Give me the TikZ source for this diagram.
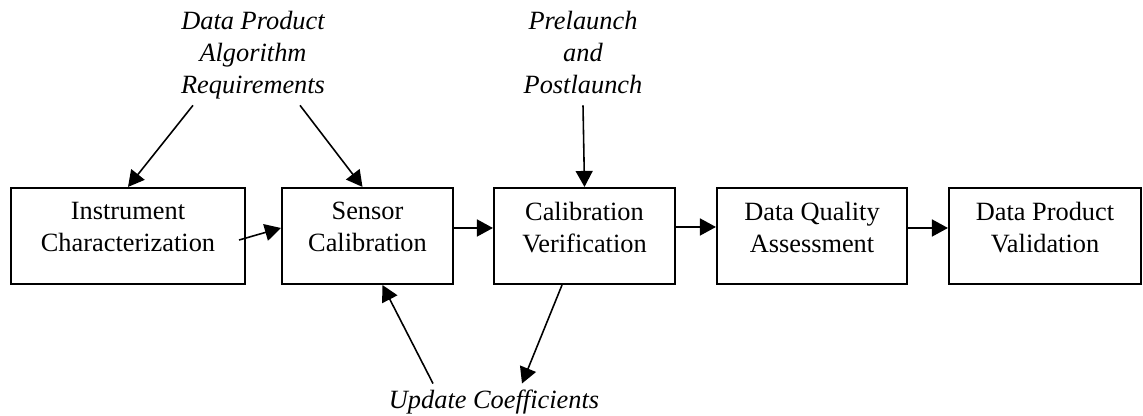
\documentclass[tikz,border=0pt]{standalone}
\usepackage{fontspec}
\setmainfont{Liberation Serif}
\usetikzlibrary{arrows.meta}

\begin{document}
\begin{tikzpicture}[box/.style={draw, line width=1.2pt, minimum height=1.92cm, align=center, text depth=0.36cm, inner sep=0pt, font=\fontsize{15}{18.2}\selectfont},
lbl/.style={align=center, text depth=0.12cm, font=\fontsize{15}{18.2}\selectfont\itshape},
arr/.style={line width=0.9pt, -{Triangle[length=0.32cm, width=0.34cm]}}]
\useasboundingbox (0,0) rectangle (22.86,8.32);

\node[box, minimum width=4.68cm] (ic) at (2.56,3.6) {Instrument\\Characterization};
\node[box, minimum width=3.42cm] (sc) at (7.35,3.6) {Sensor\\Calibration};
\node[box, minimum width=3.62cm] (cv) at (11.69,3.6) {Calibration\\Verification};
\node[box, minimum width=3.80cm] (dq) at (16.24,3.6) {Data Quality\\Assessment};
\node[box, minimum width=3.84cm] (dp) at (20.90,3.6) {Data Product\\Validation};

\node[lbl] (req) at (5.06,7.22) {Data Product\\Algorithm\\Requirements};
\node[lbl] (pre) at (11.66,7.22) {Prelaunch\\and\\Postlaunch};
\node[lbl] (upd) at (9.88,0.28) {Update Coefficients};

\draw[arr] ([xshift=-1.2cm]req.south) -- (ic.north);
\draw[arr] ([xshift=0.94cm]req.south) -- ([xshift=-0.1cm]sc.north);
\draw[arr] (pre.south) -- (cv.north);

\draw[arr] ([xshift=-0.14cm,yshift=-0.08cm]ic.east) -- ([yshift=0.16cm]sc.west);
\draw[arr] ([yshift=0.16cm]sc.east) -- ([yshift=0.16cm]cv.west);
\draw[arr] ([yshift=0.18cm]cv.east) -- ([yshift=0.18cm]dq.west);
\draw[arr] ([yshift=0.16cm]dq.east) -- ([yshift=0.16cm]dp.west);

\draw[arr] ([xshift=-1.22cm]upd.north) -- ([xshift=0.3cm]sc.south);
\draw[arr] ([xshift=-0.45cm]cv.south) -- ([xshift=0.56cm]upd.north);
\end{tikzpicture}
\end{document}
